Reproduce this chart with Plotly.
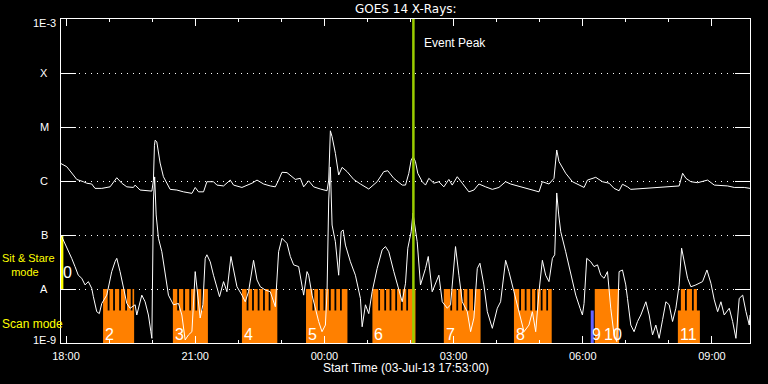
import math
import pandas as pd
import plotly.graph_objects as go

# ---------------- data ----------------
START = pd.Timestamp("2013-07-03 17:53:00")   # start of plotted window
WINDOW_MIN = 960                              # 16 hours shown

# GOES 14 long channel (1-8 A): minutes after START, flux W/m^2
long_t = [0, 8.0, 17.2, 21.9, 31.1, 35.9, 42.8, 47.4, 56.8, 68.4,
          77.7, 84.7, 91.7, 100.9, 103.3, 110.2, 126.6, 128.8, 130.2, 131.2,
          133.5, 138.1, 142.7, 152.1, 161.4, 170.6, 182.4, 187.0, 191.6, 198.6,
          203.3, 212.5, 217.2, 226.5, 235.8, 240.4, 252.1, 266.1, 273.1, 282.3,
          291.6, 298.6, 303.2, 307.9, 314.9, 319.5, 326.5, 333.5, 338.1, 345.1,
          352.0, 361.4, 370.7, 373.0, 375.3, 377.7, 382.3, 386.9, 391.7, 398.6,
          407.8, 417.2, 428.8, 440.5, 449.7, 455.3, 463.7, 475.4, 480.0, 484.6,
          487.9, 490.7, 493.9, 497.1, 503.3, 507.9, 512.5, 519.5, 526.5, 533.4,
          540.4, 545.1, 552.1, 559.1, 568.3, 575.3, 582.3, 591.6, 601.0, 610.2,
          619.5, 626.5, 640.4, 656.8, 666.0, 670.7, 679.9, 686.9, 690.7, 693.9,
          703.2, 712.6, 724.2, 728.8, 733.5, 745.1, 754.4, 763.7, 770.6, 777.6,
          782.3, 789.3, 793.9, 817.2, 840.4, 861.3, 866.1, 870.7, 877.6, 887.0,
          900.9, 910.2, 928.9, 938.1, 952.0, 960]
long_flux = [2.1e-6, 1.84e-6, 1.29e-6, 1.07e-6, 9.7e-7, 9.1e-7, 8.8e-7, 7.3e-7, 7.3e-7, 7.8e-7,
             1.15e-6, 9.1e-7, 7.8e-7, 7.6e-7, 8.4e-7, 6.8e-7, 6.5e-7, 1.04e-6, 4.6e-6, 5.7e-6,
             5.3e-6, 2.15e-6, 1.2e-6, 7.0e-7, 6.8e-7, 6.3e-7, 5.9e-7, 7.6e-7, 6.3e-7, 6.3e-7,
             9.7e-7, 9.7e-7, 8.4e-7, 8.1e-7, 1.04e-6, 8.4e-7, 7.6e-7, 9.1e-7, 1.04e-6, 8.8e-7,
             8.1e-7, 7.8e-7, 1.04e-6, 1.45e-6, 1.43e-6, 1.29e-6, 1.07e-6, 1.12e-6, 7.8e-7, 1.01e-6,
             7.8e-7, 7.1e-7, 6.6e-7, 1.04e-6, 8.5e-6, 6.6e-6, 3.26e-6, 1.29e-6, 1.79e-6, 1.49e-6,
             1.07e-6, 8.8e-7, 7.1e-7, 9.7e-7, 1.49e-6, 1.55e-6, 1.12e-6, 8.4e-7, 8.4e-7, 1.39e-6,
             2.45e-6, 2.82e-6, 2.28e-6, 1.39e-6, 9.7e-7, 8.4e-7, 1.12e-6, 9.1e-7, 9.7e-7, 7.8e-7,
             1.07e-6, 8.4e-7, 1.2e-6, 9.1e-7, 6.3e-7, 6.8e-7, 8.8e-7, 7.8e-7, 7.0e-7, 7.6e-7,
             9.7e-7, 8.8e-7, 7.8e-7, 6.6e-7, 6.3e-7, 9.7e-7, 8.8e-7, 1.12e-6, 3.75e-6, 2.28e-6,
             1.39e-6, 9.7e-7, 8.1e-7, 7.6e-7, 1.04e-6, 1.17e-6, 9.7e-7, 9.1e-7, 7.3e-7, 6.6e-7,
             8.7e-7, 7.8e-7, 7.0e-7, 7.3e-7, 7.6e-7, 8.1e-7, 1.39e-6, 1.12e-6, 9.7e-7, 9.3e-7,
             1.04e-6, 8.4e-7, 8.1e-7, 7.6e-7, 7.6e-7, 7.3e-7]

# GOES 14 short channel (0.5-4 A): minutes after START, flux W/m^2
short_t = [0, 5.6, 10.2, 14.9, 19.5, 24.1, 28.9, 33.5, 38.1, 42.8,
           45.1, 49.8, 53.4, 56.8, 63.8, 70.7, 75.3, 77.7, 82.3, 86.9,
           91.7, 96.3, 103.3, 105.6, 112.6, 117.2, 121.8, 125.2, 126.6, 128.8,
           130.5, 132.6, 135.8, 140.5, 145.1, 149.7, 156.7, 163.7, 168.4, 173.0,
           177.6, 182.4, 187.0, 189.3, 193.9, 197.7, 200.9, 203.3, 207.9, 212.5,
           217.2, 220.9, 226.5, 231.2, 236.8, 240.4, 245.2, 252.1, 256.7, 261.3,
           268.3, 273.1, 277.7, 284.6, 291.6, 298.6, 303.2, 307.9, 314.9, 319.5,
           324.1, 331.1, 333.5, 338.1, 342.8, 345.1, 349.8, 354.4, 359.0, 363.7,
           368.4, 370.7, 373.0, 375.3, 377.7, 382.3, 386.9, 390.3, 393.1, 396.3,
           403.2, 410.2, 417.2, 419.6, 424.2, 428.8, 433.5, 440.5, 447.5, 452.1,
           456.7, 463.7, 470.6, 475.4, 480.0, 483.2, 487.9, 490.4, 496.3, 500.9,
           507.9, 511.7, 517.2, 521.8, 526.5, 531.2, 538.2, 542.8, 546.5, 549.7,
           554.4, 559.1, 566.1, 570.7, 575.3, 580.0, 583.7, 589.2, 594.0, 601.0,
           607.9, 612.5, 619.5, 624.1, 631.1, 638.1, 645.1, 652.0, 656.8, 661.4,
           666.0, 670.7, 675.3, 679.9, 684.7, 687.9, 690.7, 693.5, 696.3, 703.2,
           710.2, 717.2, 723.2, 726.5, 728.8, 732.5, 738.1, 742.7, 747.5, 752.1,
           756.7, 761.4, 766.0, 770.6, 774.4, 777.6, 782.3, 786.9, 789.3, 793.9,
           798.5, 803.3, 807.9, 814.9, 819.5, 824.2, 828.8, 833.4, 838.2, 842.8,
           847.4, 852.1, 856.7, 861.3, 864.7, 868.3, 873.0, 877.6, 884.6, 893.9,
           900.0, 905.5, 910.2, 914.9, 919.5, 924.1, 931.1, 935.8, 940.4, 945.0,
           949.8, 954.4, 959.0, 960]
short_flux = [1.0e-7, 7.0e-8, 4.9e-8, 3.7e-8, 2.6e-8, 1.8e-8, 1.58e-8, 1.19e-8, 1.37e-8, 1.03e-8,
              7.2e-9, 3.8e-9, 3.5e-9, 5.4e-9, 7.7e-9, 2.1e-8, 3.2e-8, 3.7e-8, 2.1e-8, 1.03e-8,
              5.4e-9, 4.4e-9, 5.1e-9, 3.3e-9, 7.7e-9, 5.8e-9, 3.3e-9, 1.62e-9, 1.22e-9, 4.45e-7,
              1.19e-6, 2.35e-7, 8.7e-8, 4.9e-8, 1.8e-8, 7.7e-9, 5.1e-9, 5.4e-9, 3.3e-9, 1.14e-9,
              1.41e-9, 1.62e-9, 2.1e-8, 1.03e-8, 2.9e-9, 5.1e-9, 3.7e-8, 4.3e-8, 3.2e-8, 1.8e-8,
              1.03e-8, 7.2e-9, 1.37e-8, 8.9e-9, 4.0e-8, 2.4e-8, 1.1e-8, 7.7e-9, 5.8e-9, 8.9e-9,
              3.4e-8, 1.47e-8, 1.1e-8, 9.6e-9, 8.9e-9, 4.7e-9, 4.9e-8, 8.7e-8, 7.0e-8, 4.0e-8,
              2.8e-8, 2.6e-8, 1.8e-8, 7.7e-9, 2.1e-8, 1.8e-8, 7.7e-9, 4.4e-9, 2.5e-9, 1.62e-9,
              2.15e-9, 8.9e-9, 4.45e-7, 1.82e-6, 1.53e-7, 7.5e-8, 1.8e-8, 1.15e-7, 1.24e-7, 6.5e-8,
              3.2e-8, 1.8e-8, 6.7e-9, 2.0e-9, 5.1e-9, 3.5e-9, 8.9e-9, 2.4e-8, 5.3e-8, 6.1e-8,
              4.9e-8, 2.1e-8, 1.03e-8, 5.8e-9, 1.28e-8, 5.7e-8, 1.15e-7, 2.55e-7, 7.5e-8, 1.19e-8,
              2.4e-8, 4.0e-8, 8.9e-9, 1.28e-8, 1.8e-8, 5.8e-9, 4.4e-9, 5.1e-9, 2.4e-8, 6.1e-8,
              1.8e-8, 5.8e-9, 3.8e-9, 1.62e-9, 2.9e-9, 2.4e-8, 3.0e-8, 1.19e-8, 3.8e-9, 1.87e-9,
              4.4e-9, 5.8e-9, 3.4e-8, 2.1e-8, 8.9e-9, 3.8e-9, 1.62e-9, 2.15e-9, 3.8e-9, 1.62e-9,
              8.9e-9, 3.4e-8, 1.8e-8, 1.37e-8, 3.7e-8, 4.3e-8, 6.0e-7, 2.35e-7, 1.15e-7, 4.9e-8,
              1.8e-8, 7.7e-9, 4.4e-9, 3.3e-9, 5.4e-9, 3.7e-8, 3.2e-8, 2.6e-8, 2.8e-8, 1.8e-8,
              1.58e-8, 2.1e-8, 4.4e-9, 1.41e-9, 1.06e-9, 2.1e-8, 2.25e-8, 1.19e-8, 6.7e-9, 2.15e-9,
              1.62e-9, 2.5e-9, 3.3e-9, 5.8e-9, 3.3e-9, 1.41e-9, 2.15e-9, 1.22e-9, 2.7e-9, 5.8e-9,
              5.1e-9, 2.5e-9, 4.4e-9, 1.19e-8, 5.7e-8, 3.2e-8, 1.58e-8, 1.1e-8, 1.19e-8, 1.37e-8,
              2.25e-8, 1.28e-8, 6.3e-9, 3.8e-9, 5.8e-9, 3.3e-9, 4.4e-9, 2.5e-9, 1.22e-9, 6.7e-9,
              7.7e-9, 3.8e-9, 2.15e-9, 3.3e-9]

# Scan-mode observing blocks (minutes after START)
scan_labels = ["2", "3", "4", "5", "6", "7", "8", "10", "11"]
scan_start = [58.6, 155.9, 252.1, 341.4, 433.9, 533.4, 631.1, 743.7, 859.5]
scan_end = [101.9, 204.7, 301.4, 399.1, 493.9, 584.6, 683.7, 777.6, 890.2]
raster_start = [58.6, 155.9, 252.1, 341.4, 433.9, 533.4, 631.1, 743.7, 863.7]
raster_end = [101.9, 204.7, 301.4, 399.1, 493.9, 584.6, 683.7, 777.6, 886.0]
raster_gaps = [[66.3, 73.9, 82.3, 90.7, 98.4],
               [163.2, 171.6, 180.0, 188.4, 196.7],
               [259.9, 267.5, 275.3, 282.8, 290.6],
               [351.6, 359.3, 367.0, 374.6, 382.3, 390.0],
               [443.3, 451.7, 459.1, 467.0, 474.8, 482.3],
               [543.7, 552.1, 559.9, 567.5, 575.3],
               [639.7, 647.4, 655.1, 662.1, 669.7, 677.4],
               [],
               [870.7, 880.4]]

# Other observing blocks
cal_label, cal_start, cal_end = "9", 738.1, 742.3
sit_label, sit_start, sit_end = "0", 0.0, 3.3
event_peak = "2013-07-04 02:04:00"

y_tick_vals = [1e-9, 1e-8, 1e-7, 1e-6, 1e-5, 1e-4, 1e-3]
y_tick_text = ["1E-9", "A", "B", "C", "M", "X", "1E-3"]

# ---------------- styles ----------------
FONT = "Liberation Sans"
ORANGE = "#ff8000"
BLUE = "#6464ff"
YELLOW = "#ffff00"
GREEN = "#9acd00"
GAP_HALF = 1.25      # half width of raster gaps, minutes
SCAN_LOW = 1e-9
SCAN_MID = 4e-9
SCAN_TOP = 1e-8


def tm(m):
    return START + pd.Timedelta(minutes=m)


def rect_path(intervals, lo, hi):
    xs, ys = [], []
    for a, b in intervals:
        xa, xb = tm(a), tm(b)
        xs += [xa, xb, xb, xa, xa, None]
        ys += [lo, lo, hi, hi, lo, None]
    return xs, ys


low_iv = list(zip(scan_start, scan_end))
tooth_iv = []
for rs, re_, gaps in zip(raster_start, raster_end, raster_gaps):
    edges = [rs]
    for g in gaps:
        edges += [g - GAP_HALF, g + GAP_HALF]
    edges.append(re_)
    tooth_iv += [(edges[i], edges[i + 1]) for i in range(0, len(edges), 2)]

fig = go.Figure()

ox1, oy1 = rect_path(low_iv, SCAN_LOW, SCAN_MID)
ox2, oy2 = rect_path(tooth_iv, SCAN_LOW, SCAN_TOP)
fig.add_trace(go.Scatter(x=ox1 + ox2, y=oy1 + oy2, mode="lines", line=dict(width=0),
                         fill="toself", fillcolor=ORANGE, hoverinfo="skip"))
bx, by = rect_path([(cal_start, cal_end)], SCAN_LOW, SCAN_MID)
fig.add_trace(go.Scatter(x=bx, y=by, mode="lines", line=dict(width=0),
                         fill="toself", fillcolor=BLUE, hoverinfo="skip"))
yx, yy = rect_path([(sit_start, sit_end)], 1e-8, 1e-7)
fig.add_trace(go.Scatter(x=yx, y=yy, mode="lines", line=dict(width=0),
                         fill="toself", fillcolor=YELLOW, hoverinfo="skip"))

fig.add_trace(go.Scatter(x=[tm(m) for m in short_t], y=short_flux, mode="lines",
                         line=dict(color="white", width=1), hoverinfo="skip"))
fig.add_trace(go.Scatter(x=[tm(m) for m in long_t], y=long_flux, mode="lines",
                         line=dict(color="white", width=1), hoverinfo="skip"))
fig.add_trace(go.Scatter(x=[event_peak, event_peak], y=[1e-9, 1e-3], mode="lines",
                         line=dict(color=GREEN, width=2.5), hoverinfo="skip"))

ann = []
wfont = dict(family=FONT, size=11, color="white")
for v, t in zip(y_tick_vals, y_tick_text):
    shift = 0
    if t == "1E-3":
        shift = -4
    elif t == "1E-9":
        shift = 3
    ann.append(dict(text=t, xref="paper", x=0, xanchor="center", xshift=-17,
                    yref="y", y=math.log10(v), yanchor="middle", yshift=shift,
                    showarrow=False, font=wfont))

ann.append(dict(text="GOES 14 X-Rays:", xref="paper", x=0.5, yref="paper", y=1,
                yanchor="middle", yshift=10, showarrow=False,
                font=dict(family="DejaVu Sans", size=12, color="white")))
ann.append(dict(text="Event Peak", xref="x", x=event_peak, xanchor="left", xshift=9,
                yref="paper", y=1, yanchor="middle", yshift=-24, showarrow=False,
                font=dict(family=FONT, size=12, color="white")))
ann.append(dict(text="Start Time (03-Jul-13 17:53:00)", xref="paper", x=0.5,
                yref="paper", y=0, yanchor="middle", yshift=-25, showarrow=False,
                font=dict(family=FONT, size=12, color="white")))

yfont = dict(family=FONT, size=12, color=YELLOW)
ann.append(dict(text="Sit & Stare<br>" + "\u00a0" * 3 + "mode", align="left",
                xref="paper", x=0, xanchor="left", xshift=-61,
                yref="y", y=-7.555, yanchor="middle", showarrow=False,
                font=dict(family=FONT, size=11, color=YELLOW)))
ann.append(dict(text="Scan mode", xref="paper", x=0, xanchor="left", xshift=-61,
                yref="y", y=-8.648, yanchor="middle", showarrow=False, font=yfont))

nfont = dict(family=FONT, size=16, color="white")
for lab, s in zip(scan_labels, scan_start):
    xs = 7 if lab == "10" else 0
    ann.append(dict(text=lab, xref="x", x=tm(s), xanchor="left", xshift=xs,
                    yref="y", y=-9, yanchor="bottom", yshift=-2,
                    showarrow=False, font=nfont))
ann.append(dict(text=cal_label, xref="x", x=tm(cal_start), xanchor="left", xshift=-1,
                yref="y", y=-9, yanchor="bottom", yshift=-2, showarrow=False, font=nfont))
ann.append(dict(text=sit_label, xref="x", x=tm(sit_start), xanchor="left", xshift=0,
                yref="y", y=-8, yanchor="bottom", yshift=6, showarrow=False, font=nfont))

fig.update_layout(width=768, height=384, margin=dict(l=61, r=18, t=19, b=41),
                  paper_bgcolor="black", plot_bgcolor="black", showlegend=False,
                  hovermode=False, annotations=ann)
fig.update_xaxes(type="date", range=[tm(0), tm(WINDOW_MIN)],
                 tickmode="linear", tick0="2013-07-03 18:00:00", dtick=3 * 3600000,
                 tickformat="%H:%M", ticks="inside", ticklen=7, tickcolor="white",
                 tickwidth=1, showline=True, linecolor="white", linewidth=1,
                 mirror="allticks", showgrid=False, zeroline=False,
                 tickfont=wfont, ticklabelstandoff=3,
                 minor=dict(tick0="2013-07-03 18:00:00", dtick=3600000, ticks="inside",
                            ticklen=3, tickcolor="white", showgrid=False))
fig.update_yaxes(type="log", range=[-9, -3], tickmode="array",
                 tickvals=[1e-8, 1e-7, 1e-6, 1e-5, 1e-4], showticklabels=False,
                 ticks="inside", ticklen=15, tickcolor="white", tickwidth=1,
                 showline=True, linecolor="white", linewidth=1, mirror="allticks",
                 showgrid=True, gridcolor="white", gridwidth=1, griddash="1px,5px",
                 zeroline=False)

fig.write_html("out.html")
